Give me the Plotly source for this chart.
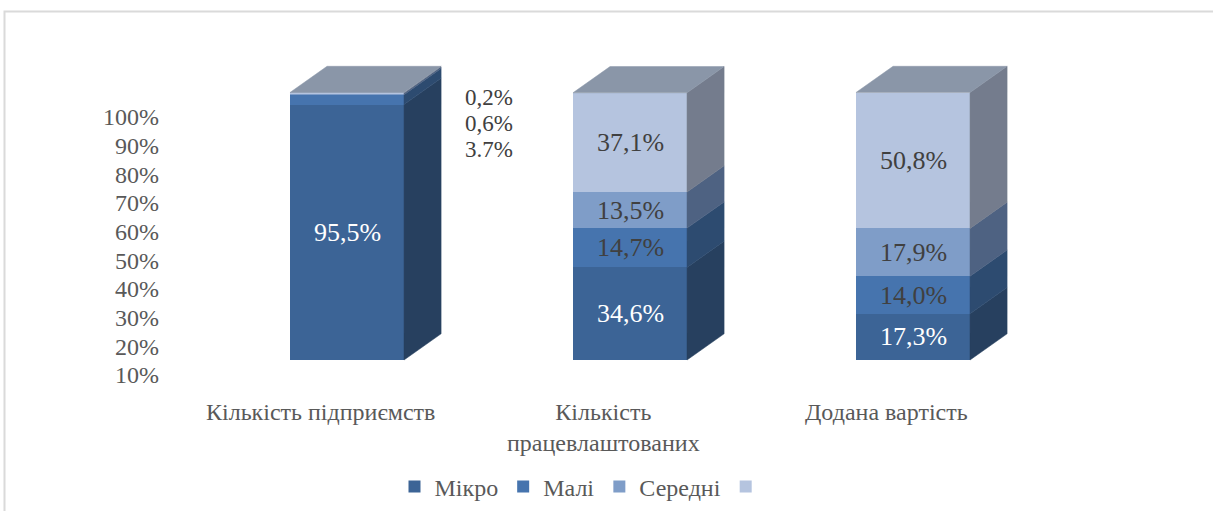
import plotly.graph_objects as go

# ---------------- data ----------------
categories = ["Кількість підприємств", "Кількість<br>працевлаштованих", "Додана вартість"]
series_names = ["Мікро", "Малі", "Середні", " "]
micro = [95.5, 34.6, 17.3]
small = [3.7, 14.7, 14.0]
medium = [0.6, 13.5, 17.9]
large = [0.2, 37.1, 50.8]
micro_labels = ["95,5%", "34,6%", "17,3%"]
small_labels = ["3.7%", "14,7%", "14,0%"]
medium_labels = ["0,6%", "13,5%", "17,9%"]
large_labels = ["0,2%", "37,1%", "50,8%"]
y_tick_vals = [10, 20, 30, 40, 50, 60, 70, 80, 90, 100]
y_tick_text = ["10%", "20%", "30%", "40%", "50%", "60%", "70%", "80%", "90%", "100%"]

# ---------------- style ----------------
front_colors = ["#3C6496", "#4674AE", "#7F9DC8", "#B5C4DF"]
side_colors = ["#27405F", "#2D4B70", "#4E6282", "#747C8D"]
top_color = "#8A96A8"
label_colors = ["#FFFFFF", "#404040", "#404040", "#404040"]
FONT = "'Liberation Serif', 'Times New Roman', 'DejaVu Serif', serif"
W = 0.403     # bar width (x units)
DX = 0.131    # depth offset x (x units)
DY = 9.8      # depth offset y (y units)

series = [micro, small, medium, large]
series_labels = [micro_labels, small_labels, medium_labels, large_labels]
xs = list(range(len(categories)))

fig = go.Figure()

# front faces
for j, vals in enumerate(series):
    fig.add_trace(go.Bar(
        x=xs, y=vals, width=W, name=series_names[j],
        marker=dict(color=front_colors[j], line=dict(width=0)),
        hoverinfo="skip", showlegend=True,
    ))

# side faces and top faces computed from the stacked values
for i in xs:
    base = 0.0
    xr = i + W / 2
    for j, vals in enumerate(series):
        v = vals[i]
        top = base + v
        fig.add_trace(go.Scatter(
            x=[xr, xr + DX, xr + DX, xr, xr],
            y=[base, base + DY, top + DY, top, base],
            fill="toself", fillcolor=side_colors[j], mode="lines",
            line=dict(width=0.5, color=side_colors[j]),
            hoverinfo="skip", showlegend=False,
        ))
        base = top
    xl = i - W / 2
    fig.add_trace(go.Scatter(
        x=[xl, xl + DX, xr + DX, xr, xl],
        y=[base, base + DY, base + DY, base, base],
        fill="toself", fillcolor=top_color, mode="lines",
        line=dict(width=0.5, color=top_color),
        hoverinfo="skip", showlegend=False,
    ))

# y tick labels on an overlaid axis
fig.add_trace(go.Scatter(x=[None], y=[None], yaxis="y2", showlegend=False, hoverinfo="skip"))

annotations = []
# data labels
for i in xs:
    base = 0.0
    for j, vals in enumerate(series):
        v = vals[i]
        if v >= 5:
            annotations.append(dict(
                x=i, y=base + v / 2, xref="x", yref="y", text=series_labels[j][i],
                showarrow=False, font=dict(family=FONT, size=26, color=label_colors[j]),
            ))
        base += v
# small segments of the first bar labelled outside (top series first)
k = 0
for j in [3, 2, 1]:
    v = series[j][0]
    if v < 5:
        annotations.append(dict(
            x=0.415, y=98 - 9.6 * k, xref="x", yref="y", text=series_labels[j][0],
            xanchor="left", showarrow=False, borderpad=0,
            font=dict(family=FONT, size=23, color="#404040"),
        ))
        k += 1
# category labels
for i, c in enumerate(categories):
    annotations.append(dict(
        x=i, xshift=-27, y=-0.05, xref="x", yref="paper", yanchor="top",
        text=c, showarrow=False, font=dict(family=FONT, size=24, color="#595959"),
    ))

L, R, T, B = 160, 113, 40, 131
fig.update_layout(
    width=1213, height=511,
    margin=dict(l=L, r=R, t=T, b=B, pad=0, autoexpand=False),
    paper_bgcolor="white", plot_bgcolor="white",
    barmode="stack", bargap=0,
    xaxis=dict(range=[(160 - 347) / 283, (1100 - 347) / 283], visible=False, fixedrange=True),
    yaxis=dict(range=[(360 - 380) / 2.675, (360 - 40) / 2.675], visible=False, fixedrange=True),
    yaxis2=dict(
        overlaying="y", side="left",
        range=[10 + (375 - 380) / 2.8667, 10 + (375 - 40) / 2.8667],
        tickvals=y_tick_vals, ticktext=y_tick_text,
        showgrid=False, zeroline=False, showline=False, ticks="",
        tickfont=dict(family=FONT, size=24, color="#595959"),
    ),
    legend=dict(
        orientation="h", x=(586 - L) / 940, xanchor="center",
        y=(380 - 487) / 340, yanchor="middle",
        font=dict(family=FONT, size=24, color="#595959"),
        traceorder="normal", itemwidth=30,
    ),
    annotations=annotations,
    shapes=[dict(
        type="rect", xref="paper", yref="paper",
        x0=(4.5 - L) / 940, x1=(1230 - L) / 940,
        y0=(380 - 530) / 340, y1=(380 - 11.5) / 340,
        line=dict(color="#DADADA", width=2), layer="below",
    )],
    font=dict(family=FONT),
    hovermode=False,
)

fig.write_html("out.html")
